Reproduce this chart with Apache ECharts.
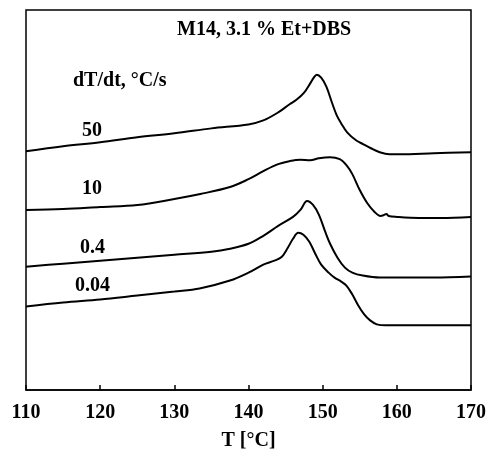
<!DOCTYPE html>
<html>
<head>
<meta charset="utf-8">
<script src="https://cdn.jsdelivr.net/npm/echarts@6/dist/echarts.min.js"></script>
<style>
  html, body { margin: 0; padding: 0; background: #fff; }
  #chart { width: 489px; height: 456px; }
</style>
</head>
<body>
<div id="chart"></div>
<script>
// DSC traces (arbitrary, vertically offset heat-flow units) vs temperature
const temp50 = [110, 115, 120, 125, 130, 135, 140, 142, 144, 145.5, 146.5, 147.5, 148.3, 148.8, 149.2, 149.8, 150.5, 151.2, 151.9, 152.5, 153.3, 154.5, 155.5, 156.5, 157.7, 159, 160.4, 165, 170];
const flow50 = [240, 245, 249, 254, 258, 263, 267, 271, 279, 287, 292, 299, 308, 314, 317, 314, 305, 290, 276, 268, 259, 251, 247, 243, 239, 237, 237, 238, 239];

const temp10 = [110, 115, 120, 125, 130, 133.5, 137.5, 140, 142, 144, 145.5, 147, 148.3, 149.5, 151, 152.3, 153.2, 154, 155, 156, 157, 157.8, 158.3, 158.6, 158.9, 160, 163, 166, 170];
const flow10 = [181, 182, 184, 186, 192, 197, 204, 212, 220, 227, 230, 231.5, 231, 233, 234, 232, 226, 217, 201, 188, 179, 175, 176, 177, 175, 174, 173, 173, 174];

const temp04 = [110, 115, 120, 125, 130, 135, 137.5, 140, 142, 144, 146, 147, 147.9, 148.7, 149.5, 150.3, 151, 152, 153, 154, 155.4, 157.7, 160, 165, 170];
const flow04 = [124, 127, 130, 133, 136, 139, 142, 147, 155, 165, 174, 181, 190, 186, 176, 160, 147, 133, 123, 118, 115, 113, 113, 113, 114];

const temp004 = [110, 115, 120, 125, 130, 133.4, 137.5, 140, 142, 143.5, 144.5, 145.3, 146, 146.7, 147.4, 148.2, 149, 149.8, 150.8, 151.6, 152.5, 153.2, 154, 154.8, 155.6, 156.4, 157.3, 158.5, 162, 170];
const flow004 = [84, 88, 91, 95, 99, 102, 110, 118, 126, 130, 134, 143, 152, 158, 156, 149, 137, 126, 118, 113, 109, 105, 96, 85, 76, 70, 66, 65, 65, 65];

const rateLabels = ['50', '10', '0.4', '0.04'];
const xTicks = [110, 120, 130, 140, 150, 160, 170];

const traces = [[temp50, flow50], [temp10, flow10], [temp04, flow04], [temp004, flow004]];

const font = '"Liberation Serif", "Times New Roman", serif';
const textFont = 'bold 20px ' + font;

function label(text, left, top) {
  return { type: 'text', left: left, top: top, style: { text: text, font: textFont, fill: '#000' } };
}

const chart = echarts.init(document.getElementById('chart'));
chart.setOption({
  animation: false,
  grid: { left: 26, right: 16, top: 10, bottom: 64, show: true, borderColor: '#000', borderWidth: 1.5, backgroundColor: 'transparent' },
  xAxis: {
    type: 'value', min: xTicks[0], max: xTicks[xTicks.length - 1], interval: 10,
    axisLine: { lineStyle: { color: '#000', width: 1.5 } },
    axisTick: { inside: true, length: 5, lineStyle: { color: '#000', width: 1.5 } },
    splitLine: { show: false },
    axisLabel: { color: '#000', fontFamily: font, fontWeight: 'bold', fontSize: 20, margin: 13 },
    name: 'T [°C]', nameLocation: 'middle', nameGap: 41,
    nameTextStyle: { color: '#000', fontFamily: font, fontWeight: 'bold', fontSize: 20 }
  },
  yAxis: { type: 'value', min: 0, max: 382, show: false },
  series: traces.map((t, i) => ({
    type: 'line', name: rateLabels[i],
    data: t[0].map((x, j) => [x, t[1][j]]),
    showSymbol: false, smooth: 0.35,
    lineStyle: { color: '#000', width: 2 }
  })),
  graphic: [
    label('M14, 3.1 % Et+DBS', 177, 20),
    label('dT/dt, °C/s', 73, 71),
    label(rateLabels[0], 82, 121),
    label(rateLabels[1], 82, 179),
    label(rateLabels[2], 80, 238),
    label(rateLabels[3], 75, 276)
  ]
});
</script>
</body>
</html>
